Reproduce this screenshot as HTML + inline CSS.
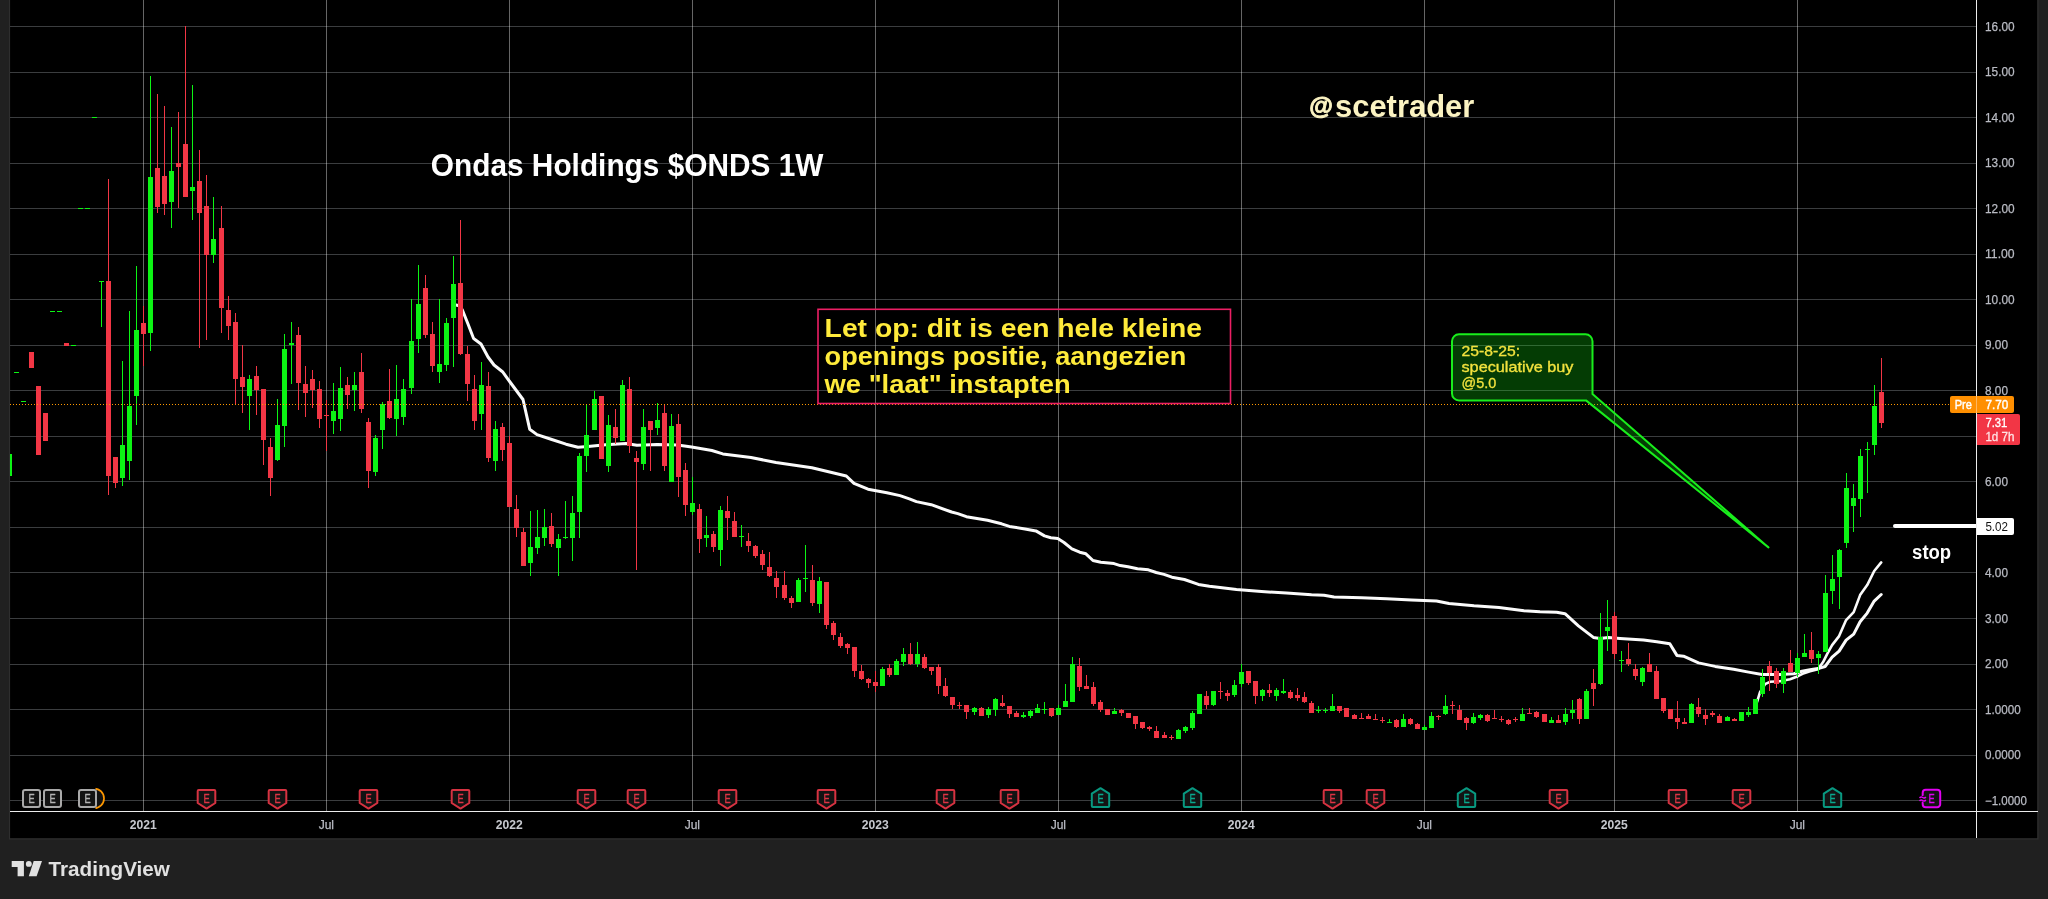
<!DOCTYPE html>
<html><head><meta charset="utf-8"><title>ONDS 1W</title>
<style>
html,body{margin:0;padding:0;background:#202020;}
body{width:2048px;height:899px;overflow:hidden;position:relative;font-family:"Liberation Sans",sans-serif;}
svg{position:absolute;left:0;top:0;display:block;will-change:transform;}
text{font-family:"Liberation Sans",sans-serif;}
.ax{font-size:12px;fill:#b9bbc3;stroke:#b9bbc3;stroke-width:0.25px;}
.axb{font-size:12px;fill:#c6c8ce;font-weight:bold;}
.g{fill:#0cf414;}
.r{fill:#f23645;}
.ma{fill:none;stroke:#fbfbfb;stroke-linejoin:round;stroke-linecap:round;}
</style></head><body>
<svg width="2048" height="899" viewBox="0 0 2048 899">
<rect x="0" y="0" width="2048" height="899" fill="#202020"/>
<rect x="9" y="-2" width="2029.6" height="841.5" fill="#2e2e2e"/>
<rect x="10.1" y="-2" width="2027.1" height="840.2" fill="#000"/>
<g shape-rendering="crispEdges">
<rect x="10" y="800" width="1966" height="1" fill="#3b3d3f"/>
<rect x="10" y="755" width="1966" height="1" fill="#3b3d3f"/>
<rect x="10" y="709" width="1966" height="1" fill="#3b3d3f"/>
<rect x="10" y="664" width="1966" height="1" fill="#3b3d3f"/>
<rect x="10" y="618" width="1966" height="1" fill="#3b3d3f"/>
<rect x="10" y="572" width="1966" height="1" fill="#3b3d3f"/>
<rect x="10" y="527" width="1966" height="1" fill="#3b3d3f"/>
<rect x="10" y="481" width="1966" height="1" fill="#3b3d3f"/>
<rect x="10" y="436" width="1966" height="1" fill="#3b3d3f"/>
<rect x="10" y="390" width="1966" height="1" fill="#3b3d3f"/>
<rect x="10" y="345" width="1966" height="1" fill="#3b3d3f"/>
<rect x="10" y="299" width="1966" height="1" fill="#3b3d3f"/>
<rect x="10" y="254" width="1966" height="1" fill="#3b3d3f"/>
<rect x="10" y="208" width="1966" height="1" fill="#3b3d3f"/>
<rect x="10" y="163" width="1966" height="1" fill="#3b3d3f"/>
<rect x="10" y="117" width="1966" height="1" fill="#3b3d3f"/>
<rect x="10" y="72" width="1966" height="1" fill="#3b3d3f"/>
<rect x="10" y="26" width="1966" height="1" fill="#3b3d3f"/>
<rect x="143" y="0" width="1" height="811" fill="rgba(255,255,255,0.4)"/>
<rect x="326" y="0" width="1" height="811" fill="rgba(255,255,255,0.4)"/>
<rect x="509" y="0" width="1" height="811" fill="rgba(255,255,255,0.4)"/>
<rect x="692" y="0" width="1" height="811" fill="rgba(255,255,255,0.4)"/>
<rect x="875" y="0" width="1" height="811" fill="rgba(255,255,255,0.4)"/>
<rect x="1058" y="0" width="1" height="811" fill="rgba(255,255,255,0.4)"/>
<rect x="1241" y="0" width="1" height="811" fill="rgba(255,255,255,0.4)"/>
<rect x="1424" y="0" width="1" height="811" fill="rgba(255,255,255,0.4)"/>
<rect x="1614" y="0" width="1" height="811" fill="rgba(255,255,255,0.4)"/>
<rect x="1797" y="0" width="1" height="811" fill="rgba(255,255,255,0.4)"/>
</g>
<polyline class="ma" stroke-width="3" points="456.0,305.0 460.0,306.0 462.4,310.0 468.0,324.0 473.6,338.5 481.0,344.0 488.0,357.0 494.0,365.0 502.5,371.7 510.0,382.0 523.0,399.5 529.7,429.2 537.0,434.6 551.0,439.2 566.0,444.2 578.0,447.2 588.0,446.6 605.6,444.7 626.0,443.4 636.9,445.3 657.2,444.4 677.5,445.0 691.6,447.0 711.9,450.5 722.8,453.9 751.0,457.5 776.0,462.5 811.9,467.7 846.3,476.0 854.0,483.3 868.0,489.2 886.9,492.7 900.0,495.6 909.4,498.8 916.4,501.6 931.2,504.7 951.6,512.0 957.8,513.6 966.4,516.7 987.5,520.3 1001.6,523.8 1009.4,526.4 1025.0,528.9 1035.9,530.9 1044.5,535.9 1050.8,537.8 1057.8,538.6 1064.0,542.5 1071.9,548.8 1079.7,552.2 1085.9,553.8 1093.0,560.5 1100.8,562.2 1114.0,563.6 1120.3,565.6 1128.0,566.7 1137.5,568.8 1148.4,569.8 1156.2,572.5 1164.0,574.4 1171.9,577.2 1184.4,579.5 1198.4,584.4 1209.4,586.2 1220.0,587.5 1236.5,589.5 1261.5,591.5 1286.5,593.0 1311.5,594.8 1324.0,595.2 1334.0,597.0 1361.5,597.8 1386.5,598.8 1411.5,600.0 1436.5,601.0 1449.0,603.5 1474.0,605.8 1499.0,607.5 1524.0,610.8 1540.0,611.7 1556.7,612.2 1565.0,613.7 1578.4,625.9 1593.4,637.4 1600.0,638.4 1608.4,637.4 1620.0,638.4 1643.5,640.0 1656.8,641.7 1669.8,643.7 1676.9,655.4 1683.5,656.2 1698.5,662.9 1715.2,666.4 1733.6,669.3 1748.6,672.1 1762.0,674.4 1780.0,674.6 1794.0,673.8 1802.0,671.2 1810.0,669.8 1818.0,668.6 1825.1,666.5 1832.1,657.1 1839.1,651.1 1846.1,640.1 1853.7,634.1 1860.1,621.7 1867.2,613.1 1874.2,601.1 1881.2,594.5"/>
<polyline class="ma" stroke-width="2.6" points="1757.0,702.2 1760.0,692.2 1765.0,684.2 1770.0,681.8 1780.0,681.2 1790.0,679.2 1798.0,676.2 1804.0,673.2 1810.0,671.2 1818.0,669.2 1823.1,662.1 1827.1,654.1 1832.1,645.1 1839.1,636.1 1846.1,620.1 1853.7,612.1 1860.1,595.1 1867.2,585.1 1874.2,571.0 1881.2,562.4"/>
<g shape-rendering="crispEdges">
<rect class="g" x="10" y="454" width="2" height="22"/>
<rect class="g" x="14" y="372" width="5" height="1"/>
<rect class="g" x="21" y="401" width="5" height="1"/>
<rect class="r" x="29" y="352" width="5" height="16"/>
<rect class="r" x="36" y="386" width="5" height="69"/>
<rect class="r" x="43" y="413" width="5" height="28"/>
<rect class="g" x="50" y="311" width="5" height="1"/>
<rect class="g" x="57" y="311" width="5" height="1"/>
<rect class="r" x="64" y="343" width="5" height="3"/>
<rect class="g" x="71" y="345" width="5" height="1"/>
<rect class="g" x="78" y="208" width="5" height="1"/>
<rect class="g" x="85" y="208" width="5" height="1"/>
<rect class="g" x="92" y="117" width="5" height="1"/>
<rect class="g" x="101" y="281" width="1" height="46"/>
<rect class="g" x="99" y="281" width="5" height="1"/>
<rect class="r" x="108" y="179" width="1" height="316"/>
<rect class="r" x="106" y="281" width="5" height="195"/>
<rect class="r" x="115" y="457" width="1" height="31"/>
<rect class="r" x="113" y="457" width="5" height="26"/>
<rect class="g" x="122" y="361" width="1" height="125"/>
<rect class="g" x="120" y="445" width="5" height="33"/>
<rect class="g" x="129" y="311" width="1" height="169"/>
<rect class="g" x="127" y="406" width="5" height="55"/>
<rect class="g" x="136" y="266" width="1" height="159"/>
<rect class="g" x="134" y="330" width="5" height="66"/>
<rect class="r" x="143" y="306" width="1" height="60"/>
<rect class="r" x="141" y="323" width="5" height="11"/>
<rect class="g" x="150" y="76" width="1" height="275"/>
<rect class="g" x="148" y="177" width="5" height="156"/>
<rect class="r" x="157" y="94" width="1" height="119"/>
<rect class="r" x="155" y="168" width="5" height="39"/>
<rect class="r" x="164" y="106" width="1" height="109"/>
<rect class="r" x="162" y="176" width="5" height="28"/>
<rect class="g" x="171" y="127" width="1" height="101"/>
<rect class="g" x="169" y="171" width="5" height="31"/>
<rect class="r" x="178" y="112" width="1" height="96"/>
<rect class="r" x="176" y="163" width="5" height="4"/>
<rect class="r" x="185" y="26" width="1" height="171"/>
<rect class="r" x="183" y="144" width="5" height="53"/>
<rect class="g" x="192" y="85" width="1" height="135"/>
<rect class="g" x="190" y="187" width="5" height="4"/>
<rect class="r" x="199" y="150" width="1" height="198"/>
<rect class="r" x="197" y="181" width="5" height="32"/>
<rect class="r" x="206" y="175" width="1" height="165"/>
<rect class="r" x="204" y="206" width="5" height="49"/>
<rect class="g" x="213" y="197" width="1" height="66"/>
<rect class="g" x="211" y="239" width="5" height="16"/>
<rect class="r" x="221" y="206" width="1" height="127"/>
<rect class="r" x="219" y="228" width="5" height="80"/>
<rect class="r" x="228" y="296" width="1" height="44"/>
<rect class="r" x="226" y="310" width="5" height="16"/>
<rect class="r" x="235" y="313" width="1" height="91"/>
<rect class="r" x="233" y="322" width="5" height="57"/>
<rect class="r" x="242" y="345" width="1" height="68"/>
<rect class="r" x="240" y="377" width="5" height="10"/>
<rect class="g" x="249" y="375" width="1" height="55"/>
<rect class="g" x="247" y="379" width="5" height="17"/>
<rect class="r" x="256" y="366" width="1" height="49"/>
<rect class="r" x="254" y="376" width="5" height="14"/>
<rect class="r" x="263" y="389" width="1" height="76"/>
<rect class="r" x="261" y="389" width="5" height="51"/>
<rect class="r" x="270" y="438" width="1" height="58"/>
<rect class="r" x="268" y="447" width="5" height="31"/>
<rect class="g" x="277" y="399" width="1" height="62"/>
<rect class="g" x="275" y="425" width="5" height="35"/>
<rect class="g" x="284" y="334" width="1" height="113"/>
<rect class="g" x="282" y="349" width="5" height="77"/>
<rect class="g" x="291" y="322" width="1" height="62"/>
<rect class="g" x="289" y="343" width="5" height="2"/>
<rect class="r" x="298" y="327" width="1" height="83"/>
<rect class="r" x="296" y="335" width="5" height="48"/>
<rect class="r" x="305" y="366" width="1" height="51"/>
<rect class="r" x="303" y="384" width="5" height="9"/>
<rect class="r" x="312" y="370" width="1" height="38"/>
<rect class="r" x="310" y="379" width="5" height="11"/>
<rect class="r" x="319" y="381" width="1" height="47"/>
<rect class="r" x="317" y="389" width="5" height="30"/>
<rect class="r" x="326" y="400" width="1" height="51"/>
<rect class="r" x="324" y="415" width="5" height="1"/>
<rect class="g" x="333" y="383" width="1" height="51"/>
<rect class="g" x="331" y="411" width="5" height="10"/>
<rect class="g" x="340" y="367" width="1" height="64"/>
<rect class="g" x="338" y="388" width="5" height="31"/>
<rect class="r" x="347" y="377" width="1" height="32"/>
<rect class="r" x="345" y="385" width="5" height="10"/>
<rect class="g" x="354" y="372" width="1" height="39"/>
<rect class="g" x="352" y="385" width="5" height="5"/>
<rect class="r" x="361" y="353" width="1" height="60"/>
<rect class="r" x="359" y="372" width="5" height="37"/>
<rect class="r" x="368" y="418" width="1" height="70"/>
<rect class="r" x="366" y="422" width="5" height="49"/>
<rect class="g" x="375" y="435" width="1" height="41"/>
<rect class="g" x="373" y="438" width="5" height="34"/>
<rect class="g" x="382" y="402" width="1" height="47"/>
<rect class="g" x="380" y="404" width="5" height="26"/>
<rect class="r" x="389" y="369" width="1" height="50"/>
<rect class="r" x="387" y="401" width="5" height="17"/>
<rect class="g" x="396" y="365" width="1" height="71"/>
<rect class="g" x="394" y="399" width="5" height="20"/>
<rect class="g" x="403" y="379" width="1" height="46"/>
<rect class="g" x="401" y="389" width="5" height="28"/>
<rect class="g" x="411" y="299" width="1" height="95"/>
<rect class="g" x="409" y="341" width="5" height="47"/>
<rect class="g" x="418" y="265" width="1" height="88"/>
<rect class="g" x="416" y="304" width="5" height="35"/>
<rect class="r" x="425" y="275" width="1" height="63"/>
<rect class="r" x="423" y="288" width="5" height="47"/>
<rect class="r" x="432" y="322" width="1" height="50"/>
<rect class="r" x="430" y="334" width="5" height="32"/>
<rect class="g" x="439" y="299" width="1" height="84"/>
<rect class="g" x="437" y="364" width="5" height="8"/>
<rect class="g" x="446" y="318" width="1" height="53"/>
<rect class="g" x="444" y="323" width="5" height="42"/>
<rect class="g" x="453" y="256" width="1" height="111"/>
<rect class="g" x="451" y="284" width="5" height="34"/>
<rect class="r" x="460" y="220" width="1" height="135"/>
<rect class="r" x="458" y="283" width="5" height="71"/>
<rect class="r" x="467" y="346" width="1" height="55"/>
<rect class="r" x="465" y="354" width="5" height="30"/>
<rect class="r" x="474" y="375" width="1" height="55"/>
<rect class="r" x="472" y="389" width="5" height="32"/>
<rect class="g" x="481" y="362" width="1" height="68"/>
<rect class="g" x="479" y="385" width="5" height="29"/>
<rect class="r" x="488" y="372" width="1" height="90"/>
<rect class="r" x="486" y="386" width="5" height="72"/>
<rect class="g" x="495" y="421" width="1" height="50"/>
<rect class="g" x="493" y="429" width="5" height="32"/>
<rect class="r" x="502" y="423" width="1" height="38"/>
<rect class="r" x="500" y="427" width="5" height="23"/>
<rect class="r" x="509" y="436" width="1" height="71"/>
<rect class="r" x="507" y="443" width="5" height="64"/>
<rect class="r" x="516" y="495" width="1" height="42"/>
<rect class="r" x="514" y="509" width="5" height="19"/>
<rect class="r" x="523" y="528" width="1" height="38"/>
<rect class="r" x="521" y="532" width="5" height="34"/>
<rect class="g" x="530" y="511" width="1" height="65"/>
<rect class="g" x="528" y="547" width="5" height="16"/>
<rect class="g" x="537" y="510" width="1" height="44"/>
<rect class="g" x="535" y="537" width="5" height="11"/>
<rect class="g" x="544" y="509" width="1" height="37"/>
<rect class="g" x="542" y="527" width="5" height="11"/>
<rect class="r" x="551" y="513" width="1" height="34"/>
<rect class="r" x="549" y="526" width="5" height="18"/>
<rect class="g" x="558" y="534" width="1" height="42"/>
<rect class="g" x="556" y="539" width="5" height="9"/>
<rect class="g" x="565" y="501" width="1" height="38"/>
<rect class="g" x="563" y="537" width="5" height="1"/>
<rect class="g" x="572" y="496" width="1" height="65"/>
<rect class="g" x="570" y="513" width="5" height="25"/>
<rect class="g" x="579" y="453" width="1" height="85"/>
<rect class="g" x="577" y="456" width="5" height="56"/>
<rect class="g" x="586" y="404" width="1" height="68"/>
<rect class="g" x="584" y="435" width="5" height="21"/>
<rect class="g" x="594" y="391" width="1" height="39"/>
<rect class="g" x="592" y="399" width="5" height="31"/>
<rect class="r" x="599" y="396" width="5" height="63"/>
<rect class="g" x="608" y="415" width="1" height="57"/>
<rect class="g" x="606" y="425" width="5" height="41"/>
<rect class="r" x="615" y="409" width="1" height="35"/>
<rect class="r" x="613" y="427" width="5" height="11"/>
<rect class="g" x="622" y="380" width="1" height="61"/>
<rect class="g" x="620" y="385" width="5" height="56"/>
<rect class="r" x="629" y="377" width="1" height="76"/>
<rect class="r" x="627" y="389" width="5" height="57"/>
<rect class="r" x="636" y="451" width="1" height="119"/>
<rect class="r" x="634" y="458" width="5" height="4"/>
<rect class="g" x="643" y="409" width="1" height="61"/>
<rect class="g" x="641" y="427" width="5" height="37"/>
<rect class="r" x="650" y="421" width="1" height="50"/>
<rect class="r" x="648" y="421" width="5" height="9"/>
<rect class="g" x="657" y="403" width="1" height="32"/>
<rect class="g" x="655" y="420" width="5" height="8"/>
<rect class="r" x="664" y="405" width="1" height="66"/>
<rect class="r" x="662" y="413" width="5" height="53"/>
<rect class="g" x="671" y="414" width="1" height="68"/>
<rect class="g" x="669" y="426" width="5" height="56"/>
<rect class="r" x="678" y="414" width="1" height="83"/>
<rect class="r" x="676" y="424" width="5" height="53"/>
<rect class="r" x="685" y="463" width="1" height="53"/>
<rect class="r" x="683" y="470" width="5" height="35"/>
<rect class="g" x="692" y="477" width="1" height="38"/>
<rect class="g" x="690" y="503" width="5" height="9"/>
<rect class="r" x="699" y="504" width="1" height="49"/>
<rect class="r" x="697" y="509" width="5" height="30"/>
<rect class="g" x="706" y="516" width="1" height="31"/>
<rect class="g" x="704" y="535" width="5" height="3"/>
<rect class="r" x="713" y="531" width="1" height="21"/>
<rect class="r" x="711" y="534" width="5" height="13"/>
<rect class="g" x="720" y="506" width="1" height="60"/>
<rect class="g" x="718" y="510" width="5" height="40"/>
<rect class="r" x="727" y="496" width="1" height="44"/>
<rect class="r" x="725" y="511" width="5" height="7"/>
<rect class="r" x="734" y="512" width="1" height="25"/>
<rect class="r" x="732" y="521" width="5" height="16"/>
<rect class="g" x="741" y="525" width="1" height="22"/>
<rect class="g" x="739" y="536" width="5" height="1"/>
<rect class="r" x="748" y="533" width="1" height="19"/>
<rect class="r" x="746" y="541" width="5" height="5"/>
<rect class="r" x="755" y="545" width="1" height="13"/>
<rect class="r" x="753" y="546" width="5" height="10"/>
<rect class="r" x="762" y="550" width="1" height="20"/>
<rect class="r" x="760" y="554" width="5" height="11"/>
<rect class="r" x="769" y="552" width="1" height="25"/>
<rect class="r" x="767" y="567" width="5" height="9"/>
<rect class="r" x="776" y="571" width="1" height="27"/>
<rect class="r" x="774" y="578" width="5" height="9"/>
<rect class="r" x="784" y="571" width="1" height="29"/>
<rect class="r" x="782" y="585" width="5" height="13"/>
<rect class="r" x="791" y="596" width="1" height="12"/>
<rect class="r" x="789" y="598" width="5" height="5"/>
<rect class="g" x="798" y="578" width="1" height="24"/>
<rect class="g" x="796" y="580" width="5" height="22"/>
<rect class="g" x="805" y="545" width="1" height="47"/>
<rect class="g" x="803" y="578" width="5" height="1"/>
<rect class="r" x="812" y="565" width="1" height="41"/>
<rect class="r" x="810" y="580" width="5" height="23"/>
<rect class="g" x="819" y="577" width="1" height="36"/>
<rect class="g" x="817" y="581" width="5" height="23"/>
<rect class="r" x="826" y="582" width="1" height="47"/>
<rect class="r" x="824" y="582" width="5" height="43"/>
<rect class="r" x="833" y="621" width="1" height="19"/>
<rect class="r" x="831" y="623" width="5" height="12"/>
<rect class="r" x="840" y="633" width="1" height="15"/>
<rect class="r" x="838" y="637" width="5" height="9"/>
<rect class="r" x="847" y="643" width="1" height="11"/>
<rect class="r" x="845" y="644" width="5" height="4"/>
<rect class="r" x="854" y="647" width="1" height="30"/>
<rect class="r" x="852" y="647" width="5" height="24"/>
<rect class="r" x="861" y="665" width="1" height="15"/>
<rect class="r" x="859" y="671" width="5" height="8"/>
<rect class="r" x="868" y="678" width="1" height="10"/>
<rect class="r" x="866" y="679" width="5" height="4"/>
<rect class="r" x="875" y="671" width="1" height="21"/>
<rect class="r" x="873" y="682" width="5" height="4"/>
<rect class="g" x="882" y="667" width="1" height="19"/>
<rect class="g" x="880" y="669" width="5" height="17"/>
<rect class="r" x="889" y="664" width="1" height="13"/>
<rect class="r" x="887" y="668" width="5" height="7"/>
<rect class="g" x="896" y="659" width="1" height="16"/>
<rect class="g" x="894" y="661" width="5" height="14"/>
<rect class="g" x="903" y="648" width="1" height="18"/>
<rect class="g" x="901" y="654" width="5" height="8"/>
<rect class="r" x="910" y="643" width="1" height="22"/>
<rect class="r" x="908" y="654" width="5" height="10"/>
<rect class="g" x="917" y="642" width="1" height="25"/>
<rect class="g" x="915" y="654" width="5" height="10"/>
<rect class="r" x="924" y="654" width="1" height="15"/>
<rect class="r" x="922" y="657" width="5" height="11"/>
<rect class="r" x="931" y="667" width="1" height="8"/>
<rect class="r" x="929" y="667" width="5" height="4"/>
<rect class="r" x="938" y="664" width="1" height="30"/>
<rect class="r" x="936" y="667" width="5" height="19"/>
<rect class="r" x="945" y="678" width="1" height="19"/>
<rect class="r" x="943" y="686" width="5" height="10"/>
<rect class="r" x="952" y="697" width="1" height="12"/>
<rect class="r" x="950" y="697" width="5" height="8"/>
<rect class="r" x="959" y="702" width="1" height="7"/>
<rect class="r" x="957" y="705" width="5" height="1"/>
<rect class="r" x="966" y="705" width="1" height="14"/>
<rect class="r" x="964" y="705" width="5" height="7"/>
<rect class="g" x="974" y="707" width="1" height="8"/>
<rect class="g" x="972" y="708" width="5" height="4"/>
<rect class="r" x="981" y="707" width="1" height="9"/>
<rect class="r" x="979" y="708" width="5" height="8"/>
<rect class="g" x="988" y="707" width="1" height="11"/>
<rect class="g" x="986" y="709" width="5" height="6"/>
<rect class="g" x="995" y="698" width="1" height="18"/>
<rect class="g" x="993" y="699" width="5" height="11"/>
<rect class="r" x="1002" y="695" width="1" height="12"/>
<rect class="r" x="1000" y="703" width="5" height="3"/>
<rect class="r" x="1009" y="706" width="1" height="12"/>
<rect class="r" x="1007" y="706" width="5" height="8"/>
<rect class="r" x="1016" y="711" width="1" height="6"/>
<rect class="r" x="1014" y="713" width="5" height="4"/>
<rect class="g" x="1023" y="712" width="1" height="6"/>
<rect class="g" x="1021" y="715" width="5" height="2"/>
<rect class="g" x="1030" y="710" width="1" height="8"/>
<rect class="g" x="1028" y="711" width="5" height="5"/>
<rect class="g" x="1037" y="704" width="1" height="9"/>
<rect class="g" x="1035" y="708" width="5" height="5"/>
<rect class="g" x="1044" y="702" width="1" height="12"/>
<rect class="g" x="1042" y="709" width="5" height="1"/>
<rect class="r" x="1051" y="708" width="1" height="9"/>
<rect class="r" x="1049" y="708" width="5" height="8"/>
<rect class="g" x="1058" y="705" width="1" height="10"/>
<rect class="g" x="1056" y="708" width="5" height="7"/>
<rect class="g" x="1065" y="684" width="1" height="23"/>
<rect class="g" x="1063" y="701" width="5" height="6"/>
<rect class="g" x="1072" y="657" width="1" height="45"/>
<rect class="g" x="1070" y="664" width="5" height="38"/>
<rect class="r" x="1079" y="658" width="1" height="33"/>
<rect class="r" x="1077" y="666" width="5" height="21"/>
<rect class="r" x="1086" y="675" width="1" height="14"/>
<rect class="r" x="1084" y="686" width="5" height="3"/>
<rect class="r" x="1093" y="682" width="1" height="24"/>
<rect class="r" x="1091" y="687" width="5" height="17"/>
<rect class="r" x="1100" y="700" width="1" height="12"/>
<rect class="r" x="1098" y="702" width="5" height="8"/>
<rect class="r" x="1105" y="709" width="5" height="6"/>
<rect class="g" x="1114" y="708" width="1" height="6"/>
<rect class="g" x="1112" y="711" width="5" height="3"/>
<rect class="r" x="1121" y="709" width="1" height="7"/>
<rect class="r" x="1119" y="710" width="5" height="3"/>
<rect class="r" x="1126" y="713" width="5" height="5"/>
<rect class="r" x="1135" y="716" width="1" height="13"/>
<rect class="r" x="1133" y="716" width="5" height="8"/>
<rect class="r" x="1142" y="722" width="1" height="7"/>
<rect class="r" x="1140" y="722" width="5" height="6"/>
<rect class="r" x="1149" y="726" width="1" height="5"/>
<rect class="r" x="1147" y="727" width="5" height="2"/>
<rect class="r" x="1156" y="726" width="1" height="12"/>
<rect class="r" x="1154" y="731" width="5" height="7"/>
<rect class="r" x="1164" y="732" width="1" height="6"/>
<rect class="r" x="1162" y="735" width="5" height="3"/>
<rect class="r" x="1171" y="735" width="1" height="5"/>
<rect class="r" x="1169" y="737" width="5" height="1"/>
<rect class="g" x="1178" y="729" width="1" height="10"/>
<rect class="g" x="1176" y="730" width="5" height="9"/>
<rect class="g" x="1185" y="726" width="1" height="7"/>
<rect class="g" x="1183" y="727" width="5" height="4"/>
<rect class="g" x="1192" y="711" width="1" height="19"/>
<rect class="g" x="1190" y="713" width="5" height="15"/>
<rect class="g" x="1197" y="694" width="5" height="20"/>
<rect class="r" x="1206" y="691" width="1" height="18"/>
<rect class="r" x="1204" y="696" width="5" height="9"/>
<rect class="g" x="1213" y="691" width="1" height="15"/>
<rect class="g" x="1211" y="691" width="5" height="14"/>
<rect class="r" x="1220" y="682" width="1" height="17"/>
<rect class="r" x="1218" y="691" width="5" height="1"/>
<rect class="r" x="1227" y="690" width="1" height="11"/>
<rect class="r" x="1225" y="693" width="5" height="3"/>
<rect class="g" x="1234" y="680" width="1" height="17"/>
<rect class="g" x="1232" y="685" width="5" height="10"/>
<rect class="g" x="1241" y="664" width="1" height="23"/>
<rect class="g" x="1239" y="672" width="5" height="12"/>
<rect class="r" x="1248" y="671" width="1" height="14"/>
<rect class="r" x="1246" y="671" width="5" height="12"/>
<rect class="r" x="1255" y="681" width="1" height="23"/>
<rect class="r" x="1253" y="681" width="5" height="15"/>
<rect class="g" x="1262" y="689" width="1" height="12"/>
<rect class="g" x="1260" y="690" width="5" height="6"/>
<rect class="r" x="1269" y="684" width="1" height="13"/>
<rect class="r" x="1267" y="690" width="5" height="3"/>
<rect class="g" x="1276" y="688" width="1" height="13"/>
<rect class="g" x="1274" y="690" width="5" height="6"/>
<rect class="g" x="1283" y="679" width="1" height="15"/>
<rect class="g" x="1281" y="691" width="5" height="2"/>
<rect class="r" x="1290" y="690" width="1" height="9"/>
<rect class="r" x="1288" y="692" width="5" height="6"/>
<rect class="r" x="1297" y="688" width="1" height="13"/>
<rect class="r" x="1295" y="695" width="5" height="3"/>
<rect class="r" x="1304" y="692" width="1" height="11"/>
<rect class="r" x="1302" y="697" width="5" height="5"/>
<rect class="r" x="1311" y="701" width="1" height="12"/>
<rect class="r" x="1309" y="703" width="5" height="10"/>
<rect class="g" x="1318" y="706" width="1" height="7"/>
<rect class="g" x="1316" y="710" width="5" height="1"/>
<rect class="g" x="1325" y="708" width="1" height="5"/>
<rect class="g" x="1323" y="710" width="5" height="1"/>
<rect class="g" x="1332" y="694" width="1" height="17"/>
<rect class="g" x="1330" y="706" width="5" height="5"/>
<rect class="r" x="1339" y="706" width="1" height="7"/>
<rect class="r" x="1337" y="706" width="5" height="5"/>
<rect class="r" x="1344" y="708" width="5" height="9"/>
<rect class="r" x="1354" y="714" width="1" height="5"/>
<rect class="r" x="1352" y="715" width="5" height="4"/>
<rect class="r" x="1361" y="713" width="1" height="6"/>
<rect class="r" x="1359" y="718" width="5" height="1"/>
<rect class="r" x="1368" y="714" width="1" height="5"/>
<rect class="r" x="1366" y="716" width="5" height="3"/>
<rect class="r" x="1375" y="714" width="1" height="6"/>
<rect class="r" x="1373" y="719" width="5" height="1"/>
<rect class="r" x="1382" y="717" width="1" height="6"/>
<rect class="r" x="1380" y="720" width="5" height="1"/>
<rect class="g" x="1389" y="719" width="1" height="4"/>
<rect class="g" x="1387" y="722" width="5" height="1"/>
<rect class="r" x="1396" y="719" width="1" height="9"/>
<rect class="r" x="1394" y="720" width="5" height="7"/>
<rect class="g" x="1403" y="714" width="1" height="13"/>
<rect class="g" x="1401" y="719" width="5" height="8"/>
<rect class="r" x="1410" y="718" width="1" height="7"/>
<rect class="r" x="1408" y="719" width="5" height="5"/>
<rect class="r" x="1417" y="723" width="1" height="6"/>
<rect class="r" x="1415" y="724" width="5" height="5"/>
<rect class="g" x="1424" y="725" width="1" height="5"/>
<rect class="g" x="1422" y="727" width="5" height="3"/>
<rect class="g" x="1431" y="712" width="1" height="16"/>
<rect class="g" x="1429" y="716" width="5" height="12"/>
<rect class="r" x="1438" y="715" width="1" height="5"/>
<rect class="r" x="1436" y="716" width="5" height="1"/>
<rect class="g" x="1445" y="695" width="1" height="20"/>
<rect class="g" x="1443" y="706" width="5" height="8"/>
<rect class="r" x="1452" y="701" width="1" height="13"/>
<rect class="r" x="1450" y="705" width="5" height="1"/>
<rect class="r" x="1459" y="705" width="1" height="15"/>
<rect class="r" x="1457" y="710" width="5" height="10"/>
<rect class="r" x="1466" y="717" width="1" height="13"/>
<rect class="r" x="1464" y="718" width="5" height="5"/>
<rect class="g" x="1473" y="713" width="1" height="11"/>
<rect class="g" x="1471" y="717" width="5" height="6"/>
<rect class="g" x="1480" y="714" width="1" height="6"/>
<rect class="g" x="1478" y="715" width="5" height="3"/>
<rect class="r" x="1487" y="714" width="1" height="8"/>
<rect class="r" x="1485" y="715" width="5" height="6"/>
<rect class="r" x="1494" y="710" width="1" height="9"/>
<rect class="r" x="1492" y="718" width="5" height="1"/>
<rect class="r" x="1501" y="716" width="1" height="6"/>
<rect class="r" x="1499" y="719" width="5" height="1"/>
<rect class="r" x="1508" y="719" width="1" height="6"/>
<rect class="r" x="1506" y="720" width="5" height="4"/>
<rect class="r" x="1515" y="717" width="1" height="5"/>
<rect class="r" x="1513" y="719" width="5" height="1"/>
<rect class="g" x="1522" y="708" width="1" height="13"/>
<rect class="g" x="1520" y="714" width="5" height="7"/>
<rect class="r" x="1529" y="708" width="1" height="6"/>
<rect class="r" x="1527" y="713" width="5" height="1"/>
<rect class="r" x="1536" y="711" width="1" height="7"/>
<rect class="r" x="1534" y="712" width="5" height="5"/>
<rect class="r" x="1542" y="714" width="5" height="8"/>
<rect class="g" x="1551" y="717" width="1" height="6"/>
<rect class="g" x="1549" y="720" width="5" height="3"/>
<rect class="r" x="1558" y="715" width="1" height="8"/>
<rect class="r" x="1556" y="720" width="5" height="3"/>
<rect class="g" x="1565" y="708" width="1" height="17"/>
<rect class="g" x="1563" y="714" width="5" height="8"/>
<rect class="g" x="1572" y="700" width="1" height="19"/>
<rect class="g" x="1570" y="710" width="5" height="3"/>
<rect class="r" x="1579" y="698" width="1" height="26"/>
<rect class="r" x="1577" y="699" width="5" height="20"/>
<rect class="g" x="1586" y="689" width="1" height="30"/>
<rect class="g" x="1584" y="691" width="5" height="28"/>
<rect class="r" x="1593" y="669" width="1" height="37"/>
<rect class="r" x="1591" y="683" width="5" height="6"/>
<rect class="g" x="1600" y="613" width="1" height="72"/>
<rect class="g" x="1598" y="637" width="5" height="47"/>
<rect class="g" x="1607" y="600" width="1" height="51"/>
<rect class="g" x="1605" y="627" width="5" height="4"/>
<rect class="r" x="1614" y="612" width="1" height="47"/>
<rect class="r" x="1612" y="616" width="5" height="38"/>
<rect class="g" x="1621" y="651" width="1" height="21"/>
<rect class="g" x="1619" y="660" width="5" height="1"/>
<rect class="r" x="1628" y="643" width="1" height="23"/>
<rect class="r" x="1626" y="659" width="5" height="5"/>
<rect class="r" x="1635" y="664" width="1" height="16"/>
<rect class="r" x="1633" y="669" width="5" height="7"/>
<rect class="g" x="1642" y="667" width="1" height="19"/>
<rect class="g" x="1640" y="668" width="5" height="14"/>
<rect class="r" x="1649" y="653" width="1" height="19"/>
<rect class="r" x="1647" y="664" width="5" height="8"/>
<rect class="r" x="1656" y="666" width="1" height="33"/>
<rect class="r" x="1654" y="671" width="5" height="28"/>
<rect class="r" x="1663" y="698" width="1" height="15"/>
<rect class="r" x="1661" y="698" width="5" height="13"/>
<rect class="r" x="1668" y="709" width="5" height="10"/>
<rect class="r" x="1677" y="701" width="1" height="28"/>
<rect class="r" x="1675" y="718" width="5" height="4"/>
<rect class="r" x="1684" y="718" width="1" height="6"/>
<rect class="r" x="1682" y="722" width="5" height="2"/>
<rect class="g" x="1691" y="703" width="1" height="20"/>
<rect class="g" x="1689" y="704" width="5" height="19"/>
<rect class="r" x="1698" y="698" width="1" height="19"/>
<rect class="r" x="1696" y="707" width="5" height="7"/>
<rect class="r" x="1705" y="709" width="1" height="16"/>
<rect class="r" x="1703" y="715" width="5" height="4"/>
<rect class="r" x="1712" y="711" width="1" height="6"/>
<rect class="r" x="1710" y="713" width="5" height="2"/>
<rect class="r" x="1719" y="714" width="1" height="9"/>
<rect class="r" x="1717" y="716" width="5" height="7"/>
<rect class="g" x="1727" y="716" width="1" height="5"/>
<rect class="g" x="1725" y="717" width="5" height="4"/>
<rect class="r" x="1734" y="718" width="1" height="3"/>
<rect class="r" x="1732" y="719" width="5" height="2"/>
<rect class="g" x="1739" y="712" width="5" height="9"/>
<rect class="g" x="1748" y="707" width="1" height="10"/>
<rect class="g" x="1746" y="712" width="5" height="3"/>
<rect class="g" x="1753" y="699" width="5" height="15"/>
<rect class="g" x="1762" y="669" width="1" height="28"/>
<rect class="g" x="1760" y="677" width="5" height="17"/>
<rect class="r" x="1769" y="661" width="1" height="30"/>
<rect class="r" x="1767" y="666" width="5" height="7"/>
<rect class="r" x="1776" y="668" width="1" height="20"/>
<rect class="r" x="1774" y="671" width="5" height="13"/>
<rect class="g" x="1783" y="668" width="1" height="25"/>
<rect class="g" x="1781" y="671" width="5" height="13"/>
<rect class="r" x="1790" y="650" width="1" height="22"/>
<rect class="r" x="1788" y="663" width="5" height="9"/>
<rect class="g" x="1797" y="653" width="1" height="24"/>
<rect class="g" x="1795" y="658" width="5" height="15"/>
<rect class="g" x="1804" y="634" width="1" height="23"/>
<rect class="g" x="1802" y="653" width="5" height="4"/>
<rect class="r" x="1811" y="632" width="1" height="31"/>
<rect class="r" x="1809" y="650" width="5" height="9"/>
<rect class="g" x="1818" y="651" width="1" height="23"/>
<rect class="g" x="1816" y="654" width="5" height="4"/>
<rect class="g" x="1825" y="575" width="1" height="77"/>
<rect class="g" x="1823" y="593" width="5" height="59"/>
<rect class="g" x="1832" y="555" width="1" height="49"/>
<rect class="g" x="1830" y="579" width="5" height="12"/>
<rect class="g" x="1839" y="549" width="1" height="60"/>
<rect class="g" x="1837" y="550" width="5" height="27"/>
<rect class="g" x="1846" y="473" width="1" height="75"/>
<rect class="g" x="1844" y="488" width="5" height="55"/>
<rect class="g" x="1853" y="484" width="1" height="48"/>
<rect class="g" x="1851" y="498" width="5" height="8"/>
<rect class="g" x="1860" y="449" width="1" height="68"/>
<rect class="g" x="1858" y="456" width="5" height="43"/>
<rect class="g" x="1867" y="442" width="1" height="51"/>
<rect class="g" x="1865" y="449" width="5" height="1"/>
<rect class="g" x="1874" y="385" width="1" height="70"/>
<rect class="g" x="1872" y="406" width="5" height="39"/>
<rect class="r" x="1881" y="358" width="1" height="70"/>
<rect class="r" x="1879" y="392" width="5" height="31"/>
</g>
<g shape-rendering="crispEdges">
<line x1="10" y1="404.5" x2="1950" y2="404.5" stroke="#ff9800" stroke-width="1" stroke-dasharray="1 2"/>
</g>
<path d="M1459,334.3 H1585.5 a7,7 0 0 1 7,7 V394 L1768.5,547.4 L1586,400.4 H1459 a7,7 0 0 1 -7,-7 V341.3 a7,7 0 0 1 7,-7 Z" fill="rgba(16,240,16,0.25)" stroke="#19ee1c" stroke-width="2" stroke-linejoin="round"/>
<g font-size="14.2px" fill="#f2e23e" stroke="#f2e23e" stroke-width="0.3">
<text x="1461.5" y="356" textLength="58.5" lengthAdjust="spacingAndGlyphs">25-8-25:</text>
<text x="1461.5" y="372" textLength="112" lengthAdjust="spacingAndGlyphs">speculative buy</text>
<text x="1461.5" y="388" textLength="34.7" lengthAdjust="spacingAndGlyphs">@5.0</text>
</g>
<rect x="818" y="309.3" width="412.5" height="94.2" fill="none" stroke="#ec1f64" stroke-width="1.6"/>
<g font-size="26px" font-weight="bold" fill="#ffeb3b">
<text x="824.6" y="337.2" textLength="377.4" lengthAdjust="spacingAndGlyphs">Let op: dit is een hele kleine</text>
<text x="824.6" y="364.9" textLength="361.7" lengthAdjust="spacingAndGlyphs">openings positie, aangezien</text>
<text x="824.6" y="393.2" textLength="246.1" lengthAdjust="spacingAndGlyphs">we "laat" instapten</text>
</g>
<text x="430.8" y="175.5" font-size="30.5px" font-weight="bold" fill="#ffffff" textLength="392.6" lengthAdjust="spacingAndGlyphs">Ondas Holdings $ONDS 1W</text>
<text x="1309.2" y="114.2" font-size="24.5px" font-weight="bold" fill="#fbf3c2" stroke="#fbf3c2" stroke-width="0.9" textLength="23.6" lengthAdjust="spacingAndGlyphs">@</text>
<text x="1335" y="116.6" font-size="32px" font-weight="bold" fill="#fbf3c2" textLength="139.3" lengthAdjust="spacingAndGlyphs">scetrader</text>
<line x1="1895" y1="526" x2="1977" y2="526" stroke="#ffffff" stroke-width="4" stroke-linecap="round"/>
<text x="1912.1" y="558.8" font-size="19.5px" font-weight="bold" fill="#ffffff" textLength="39.1" lengthAdjust="spacingAndGlyphs">stop</text>
<circle cx="94.2" cy="798.4" r="9.8" fill="#111" stroke="#ff9800" stroke-width="1.7"/>
<rect x="80" y="786" width="15.5" height="25" fill="#000"/>
<rect x="80" y="800" width="15.5" height="1" fill="#3f4143"/>
<rect x="23.0" y="790" width="17" height="17" rx="2" fill="#131313" stroke="#a9a9a9" stroke-width="2"/>
<text x="31.6" y="802.9" font-size="12px" fill="#b4b4b4" text-anchor="middle" textLength="6.2" lengthAdjust="spacingAndGlyphs" stroke="#b4b4b4" stroke-width="0.3">E</text>
<rect x="44.0" y="790" width="17" height="17" rx="2" fill="#131313" stroke="#a9a9a9" stroke-width="2"/>
<text x="52.6" y="802.9" font-size="12px" fill="#b4b4b4" text-anchor="middle" textLength="6.2" lengthAdjust="spacingAndGlyphs" stroke="#b4b4b4" stroke-width="0.3">E</text>
<rect x="79.0" y="790" width="17" height="17" rx="2" fill="#131313" stroke="#a9a9a9" stroke-width="2"/>
<text x="87.6" y="802.9" font-size="12px" fill="#b4b4b4" text-anchor="middle" textLength="6.2" lengthAdjust="spacingAndGlyphs" stroke="#b4b4b4" stroke-width="0.3">E</text>
<path d="M198.7,790 h15.6 a1,1 0 0 1 1,1 v12 l-8.8,5.6 l-8.8,-5.6 v-12 a1,1 0 0 1 1,-1 Z" fill="#131313" stroke="#d63241" stroke-width="2" stroke-linejoin="round"/>
<text x="206.5" y="802.9" font-size="12px" fill="#de3444" text-anchor="middle" textLength="6.2" lengthAdjust="spacingAndGlyphs" stroke="#de3444" stroke-width="0.3">E</text>
<path d="M269.7,790 h15.6 a1,1 0 0 1 1,1 v12 l-8.8,5.6 l-8.8,-5.6 v-12 a1,1 0 0 1 1,-1 Z" fill="#131313" stroke="#d63241" stroke-width="2" stroke-linejoin="round"/>
<text x="277.5" y="802.9" font-size="12px" fill="#de3444" text-anchor="middle" textLength="6.2" lengthAdjust="spacingAndGlyphs" stroke="#de3444" stroke-width="0.3">E</text>
<path d="M360.7,790 h15.6 a1,1 0 0 1 1,1 v12 l-8.8,5.6 l-8.8,-5.6 v-12 a1,1 0 0 1 1,-1 Z" fill="#131313" stroke="#d63241" stroke-width="2" stroke-linejoin="round"/>
<text x="368.5" y="802.9" font-size="12px" fill="#de3444" text-anchor="middle" textLength="6.2" lengthAdjust="spacingAndGlyphs" stroke="#de3444" stroke-width="0.3">E</text>
<path d="M452.7,790 h15.6 a1,1 0 0 1 1,1 v12 l-8.8,5.6 l-8.8,-5.6 v-12 a1,1 0 0 1 1,-1 Z" fill="#131313" stroke="#d63241" stroke-width="2" stroke-linejoin="round"/>
<text x="460.5" y="802.9" font-size="12px" fill="#de3444" text-anchor="middle" textLength="6.2" lengthAdjust="spacingAndGlyphs" stroke="#de3444" stroke-width="0.3">E</text>
<path d="M578.7,790 h15.6 a1,1 0 0 1 1,1 v12 l-8.8,5.6 l-8.8,-5.6 v-12 a1,1 0 0 1 1,-1 Z" fill="#131313" stroke="#d63241" stroke-width="2" stroke-linejoin="round"/>
<text x="586.5" y="802.9" font-size="12px" fill="#de3444" text-anchor="middle" textLength="6.2" lengthAdjust="spacingAndGlyphs" stroke="#de3444" stroke-width="0.3">E</text>
<path d="M628.7,790 h15.6 a1,1 0 0 1 1,1 v12 l-8.8,5.6 l-8.8,-5.6 v-12 a1,1 0 0 1 1,-1 Z" fill="#131313" stroke="#d63241" stroke-width="2" stroke-linejoin="round"/>
<text x="636.5" y="802.9" font-size="12px" fill="#de3444" text-anchor="middle" textLength="6.2" lengthAdjust="spacingAndGlyphs" stroke="#de3444" stroke-width="0.3">E</text>
<path d="M719.7,790 h15.6 a1,1 0 0 1 1,1 v12 l-8.8,5.6 l-8.8,-5.6 v-12 a1,1 0 0 1 1,-1 Z" fill="#131313" stroke="#d63241" stroke-width="2" stroke-linejoin="round"/>
<text x="727.5" y="802.9" font-size="12px" fill="#de3444" text-anchor="middle" textLength="6.2" lengthAdjust="spacingAndGlyphs" stroke="#de3444" stroke-width="0.3">E</text>
<path d="M818.7,790 h15.6 a1,1 0 0 1 1,1 v12 l-8.8,5.6 l-8.8,-5.6 v-12 a1,1 0 0 1 1,-1 Z" fill="#131313" stroke="#d63241" stroke-width="2" stroke-linejoin="round"/>
<text x="826.5" y="802.9" font-size="12px" fill="#de3444" text-anchor="middle" textLength="6.2" lengthAdjust="spacingAndGlyphs" stroke="#de3444" stroke-width="0.3">E</text>
<path d="M937.7,790 h15.6 a1,1 0 0 1 1,1 v12 l-8.8,5.6 l-8.8,-5.6 v-12 a1,1 0 0 1 1,-1 Z" fill="#131313" stroke="#d63241" stroke-width="2" stroke-linejoin="round"/>
<text x="945.5" y="802.9" font-size="12px" fill="#de3444" text-anchor="middle" textLength="6.2" lengthAdjust="spacingAndGlyphs" stroke="#de3444" stroke-width="0.3">E</text>
<path d="M1001.7,790 h15.6 a1,1 0 0 1 1,1 v12 l-8.8,5.6 l-8.8,-5.6 v-12 a1,1 0 0 1 1,-1 Z" fill="#131313" stroke="#d63241" stroke-width="2" stroke-linejoin="round"/>
<text x="1009.5" y="802.9" font-size="12px" fill="#de3444" text-anchor="middle" textLength="6.2" lengthAdjust="spacingAndGlyphs" stroke="#de3444" stroke-width="0.3">E</text>
<path d="M1324.7,790 h15.6 a1,1 0 0 1 1,1 v12 l-8.8,5.6 l-8.8,-5.6 v-12 a1,1 0 0 1 1,-1 Z" fill="#131313" stroke="#d63241" stroke-width="2" stroke-linejoin="round"/>
<text x="1332.5" y="802.9" font-size="12px" fill="#de3444" text-anchor="middle" textLength="6.2" lengthAdjust="spacingAndGlyphs" stroke="#de3444" stroke-width="0.3">E</text>
<path d="M1367.7,790 h15.6 a1,1 0 0 1 1,1 v12 l-8.8,5.6 l-8.8,-5.6 v-12 a1,1 0 0 1 1,-1 Z" fill="#131313" stroke="#d63241" stroke-width="2" stroke-linejoin="round"/>
<text x="1375.5" y="802.9" font-size="12px" fill="#de3444" text-anchor="middle" textLength="6.2" lengthAdjust="spacingAndGlyphs" stroke="#de3444" stroke-width="0.3">E</text>
<path d="M1550.7,790 h15.6 a1,1 0 0 1 1,1 v12 l-8.8,5.6 l-8.8,-5.6 v-12 a1,1 0 0 1 1,-1 Z" fill="#131313" stroke="#d63241" stroke-width="2" stroke-linejoin="round"/>
<text x="1558.5" y="802.9" font-size="12px" fill="#de3444" text-anchor="middle" textLength="6.2" lengthAdjust="spacingAndGlyphs" stroke="#de3444" stroke-width="0.3">E</text>
<path d="M1669.7,790 h15.6 a1,1 0 0 1 1,1 v12 l-8.8,5.6 l-8.8,-5.6 v-12 a1,1 0 0 1 1,-1 Z" fill="#131313" stroke="#d63241" stroke-width="2" stroke-linejoin="round"/>
<text x="1677.5" y="802.9" font-size="12px" fill="#de3444" text-anchor="middle" textLength="6.2" lengthAdjust="spacingAndGlyphs" stroke="#de3444" stroke-width="0.3">E</text>
<path d="M1733.7,790 h15.6 a1,1 0 0 1 1,1 v12 l-8.8,5.6 l-8.8,-5.6 v-12 a1,1 0 0 1 1,-1 Z" fill="#131313" stroke="#d63241" stroke-width="2" stroke-linejoin="round"/>
<text x="1741.5" y="802.9" font-size="12px" fill="#de3444" text-anchor="middle" textLength="6.2" lengthAdjust="spacingAndGlyphs" stroke="#de3444" stroke-width="0.3">E</text>
<path d="M1100.5,788.2 l8.7,5.5 v12.4 a1,1 0 0 1 -1,1 h-15.4 a1,1 0 0 1 -1,-1 v-12.4 Z" fill="#131313" stroke="#089981" stroke-width="2" stroke-linejoin="round"/>
<text x="1100.5" y="802.9" font-size="12px" fill="#0aa88d" text-anchor="middle" textLength="6.2" lengthAdjust="spacingAndGlyphs" stroke="#0aa88d" stroke-width="0.3">E</text>
<path d="M1192.5,788.2 l8.7,5.5 v12.4 a1,1 0 0 1 -1,1 h-15.4 a1,1 0 0 1 -1,-1 v-12.4 Z" fill="#131313" stroke="#089981" stroke-width="2" stroke-linejoin="round"/>
<text x="1192.5" y="802.9" font-size="12px" fill="#0aa88d" text-anchor="middle" textLength="6.2" lengthAdjust="spacingAndGlyphs" stroke="#0aa88d" stroke-width="0.3">E</text>
<path d="M1466.5,788.2 l8.7,5.5 v12.4 a1,1 0 0 1 -1,1 h-15.4 a1,1 0 0 1 -1,-1 v-12.4 Z" fill="#131313" stroke="#089981" stroke-width="2" stroke-linejoin="round"/>
<text x="1466.5" y="802.9" font-size="12px" fill="#0aa88d" text-anchor="middle" textLength="6.2" lengthAdjust="spacingAndGlyphs" stroke="#0aa88d" stroke-width="0.3">E</text>
<path d="M1832.5,788.2 l8.7,5.5 v12.4 a1,1 0 0 1 -1,1 h-15.4 a1,1 0 0 1 -1,-1 v-12.4 Z" fill="#131313" stroke="#089981" stroke-width="2" stroke-linejoin="round"/>
<text x="1832.5" y="802.9" font-size="12px" fill="#0aa88d" text-anchor="middle" textLength="6.2" lengthAdjust="spacingAndGlyphs" stroke="#0aa88d" stroke-width="0.3">E</text>
<path d="M1922.7,796 V792.7 a3,3 0 0 1 3,-3 H1937.2 a3,3 0 0 1 3,3 V804.2 a3,3 0 0 1 -3,3 H1925.7 a3,3 0 0 1 -3,-3 V801.6" fill="#131313" stroke="#e100f2" stroke-width="2"/>
<rect x="1923.7" y="795" width="3" height="8" fill="#131313"/>
<path d="M1919.5,797.9 q1.6,-1.6 3.2,-0.4 t3.2,-0.4 M1919.5,800.9 q1.6,-1.6 3.2,-0.4 t3.2,-0.4" fill="none" stroke="#e100f2" stroke-width="1.5"/>
<text x="1931.7" y="802.9" font-size="12px" fill="#e100f2" text-anchor="middle" textLength="6.2" lengthAdjust="spacingAndGlyphs" stroke="#e100f2" stroke-width="0.3">E</text>
<g shape-rendering="crispEdges">
<rect x="10" y="811" width="2028" height="1" fill="#ececec"/>
<rect x="1976" y="0" width="1" height="838" fill="#ececec"/>
</g>
<text class="ax" x="1985" y="30.5" textLength="29.6" lengthAdjust="spacingAndGlyphs">16.00</text>
<text class="ax" x="1985" y="76.0" textLength="29.6" lengthAdjust="spacingAndGlyphs">15.00</text>
<text class="ax" x="1985" y="121.5" textLength="29.6" lengthAdjust="spacingAndGlyphs">14.00</text>
<text class="ax" x="1985" y="167.1" textLength="29.6" lengthAdjust="spacingAndGlyphs">13.00</text>
<text class="ax" x="1985" y="212.6" textLength="29.6" lengthAdjust="spacingAndGlyphs">12.00</text>
<text class="ax" x="1985" y="258.2" textLength="29.6" lengthAdjust="spacingAndGlyphs">11.00</text>
<text class="ax" x="1985" y="303.7" textLength="29.6" lengthAdjust="spacingAndGlyphs">10.00</text>
<text class="ax" x="1985" y="349.2" textLength="23.0" lengthAdjust="spacingAndGlyphs">9.00</text>
<text class="ax" x="1985" y="394.8" textLength="23.0" lengthAdjust="spacingAndGlyphs">8.00</text>
<text class="ax" x="1985" y="485.9" textLength="23.0" lengthAdjust="spacingAndGlyphs">6.00</text>
<text class="ax" x="1985" y="576.9" textLength="23.0" lengthAdjust="spacingAndGlyphs">4.00</text>
<text class="ax" x="1985" y="622.5" textLength="23.0" lengthAdjust="spacingAndGlyphs">3.00</text>
<text class="ax" x="1985" y="668.0" textLength="23.0" lengthAdjust="spacingAndGlyphs">2.00</text>
<text class="ax" x="1985" y="713.6" textLength="35.7" lengthAdjust="spacingAndGlyphs">1.0000</text>
<text class="ax" x="1985" y="759.1" textLength="35.7" lengthAdjust="spacingAndGlyphs">0.0000</text>
<text class="ax" x="1985" y="804.6" textLength="41.9" lengthAdjust="spacingAndGlyphs">−1.0000</text>
<rect x="1950" y="396" width="64" height="17" rx="2" fill="#ff8f00"/>
<rect x="1976" y="396" width="1" height="17" fill="#ffb660" shape-rendering="crispEdges"/>
<text x="1954.7" y="409" font-size="12px" fill="#ffffff" stroke="#ffffff" stroke-width="0.4" textLength="17.2" lengthAdjust="spacingAndGlyphs">Pre</text>
<text x="1985.4" y="409" font-size="12px" fill="#ffffff" stroke="#ffffff" stroke-width="0.4" textLength="22.8" lengthAdjust="spacingAndGlyphs">7.70</text>
<path d="M1977,414 h41 a2,2 0 0 1 2,2 v27 a2,2 0 0 1 -2,2 h-41 Z" fill="#f23645"/>
<text x="1985.4" y="427.4" font-size="12px" fill="#ffffff" stroke="#ffffff" stroke-width="0.3" textLength="22" lengthAdjust="spacingAndGlyphs">7.31</text>
<text x="1985.4" y="441.4" font-size="12px" fill="#ffe2e4" stroke="#ffe2e4" stroke-width="0.3" textLength="29" lengthAdjust="spacingAndGlyphs">1d 7h</text>
<path d="M1977,518 h35 a2,2 0 0 1 2,2 v13 a2,2 0 0 1 -2,2 h-35 Z" fill="#ffffff"/>
<text x="1985.4" y="530.9" font-size="12px" fill="#111" textLength="22.6" lengthAdjust="spacingAndGlyphs">5.02</text>
<text class="axb" x="143.3" y="829" text-anchor="middle" textLength="27" lengthAdjust="spacingAndGlyphs">2021</text>
<text class="ax" x="326.3" y="829" text-anchor="middle" fill="#c6c8ce">Jul</text>
<text class="axb" x="509.3" y="829" text-anchor="middle" textLength="27" lengthAdjust="spacingAndGlyphs">2022</text>
<text class="ax" x="692.3" y="829" text-anchor="middle" fill="#c6c8ce">Jul</text>
<text class="axb" x="875.3" y="829" text-anchor="middle" textLength="27" lengthAdjust="spacingAndGlyphs">2023</text>
<text class="ax" x="1058.3" y="829" text-anchor="middle" fill="#c6c8ce">Jul</text>
<text class="axb" x="1241.3" y="829" text-anchor="middle" textLength="27" lengthAdjust="spacingAndGlyphs">2024</text>
<text class="ax" x="1424.3" y="829" text-anchor="middle" fill="#c6c8ce">Jul</text>
<text class="axb" x="1614.3" y="829" text-anchor="middle" textLength="27" lengthAdjust="spacingAndGlyphs">2025</text>
<text class="ax" x="1797.3" y="829" text-anchor="middle" fill="#c6c8ce">Jul</text>
<g fill="#e1e1e1">
<path d="M11.7,861.1 H23.9 V876.3 H17.6 V867 H11.7 Z"/>
<circle cx="28.8" cy="863.9" r="2.95"/>
<path d="M33.7,861.1 H42 L36.6,876.3 H28.8 Z"/>
<text x="48.6" y="876.1" font-size="20.6px" font-weight="bold" textLength="121.3" lengthAdjust="spacingAndGlyphs">TradingView</text>
</g>
</svg>
</body></html>
